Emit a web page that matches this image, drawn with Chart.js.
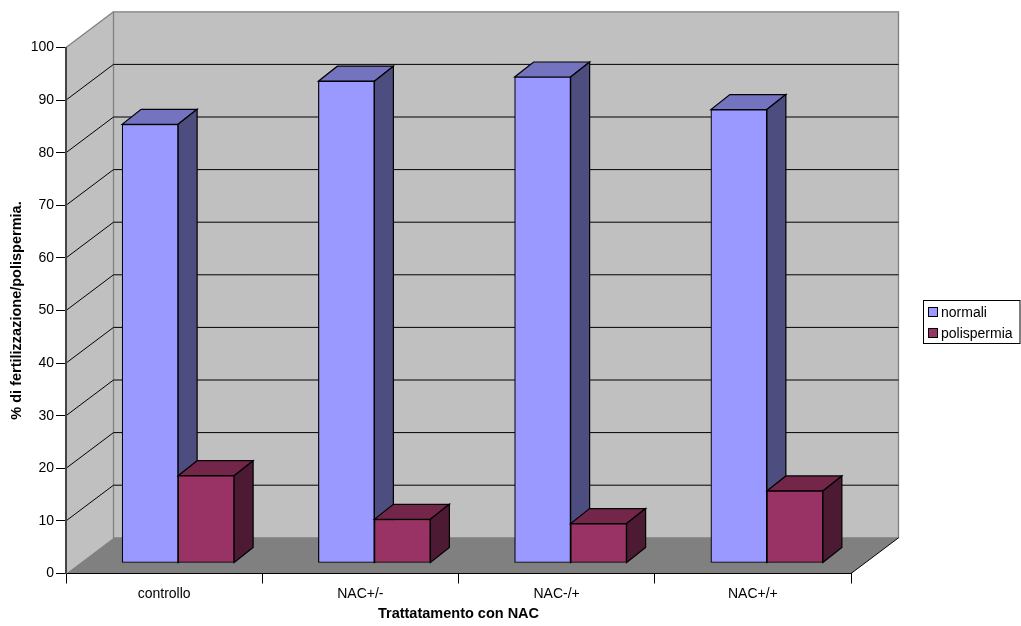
<!DOCTYPE html>
<html>
<head>
<meta charset="utf-8">
<title>Trattamento con NAC</title>
<script src="https://cdn.jsdelivr.net/npm/chart.js@4"></script>
<style>
  html, body { margin: 0; padding: 0; background: #fff; }
  canvas { display: block; }
</style>
</head>
<body>
<canvas id="chart" width="1021" height="626"></canvas>
<script>
const categories = ["controllo", "NAC+/-", "NAC-/+", "NAC+/+"];
const normali = [83.4, 91.6, 92.4, 86.2];
const polispermia = [16.6, 8.3, 7.5, 13.7];

const FONT = "Arial, 'Liberation Sans', sans-serif";

// depth of the box behind the plot, and of each bar
const wallDX = 47.5, wallDY = -35.7;
const barOffsetX = 14, barOffsetY = -10.5;
const barDX = 19, barDY = -15;

function poly(ctx, pts, fill, stroke, width) {
  ctx.beginPath();
  pts.forEach((p, i) => i ? ctx.lineTo(p[0], p[1]) : ctx.moveTo(p[0], p[1]));
  ctx.closePath();
  if (fill) { ctx.fillStyle = fill; ctx.fill(); }
  if (stroke) { ctx.strokeStyle = stroke; ctx.lineWidth = width || 1; ctx.stroke(); }
}

// back wall, side wall, floor and the grid lines folded over them
const boxPlugin = {
  id: "box3d",
  beforeDraw(chart) {
    const { ctx, chartArea: a, scales } = chart;
    const l = a.left, r = a.right, t = a.top, b = a.bottom;
    ctx.save();
    poly(ctx, [[l, t], [l + wallDX, t + wallDY], [l + wallDX, b + wallDY], [l, b]], "#c0c0c0");
    poly(ctx, [[l + wallDX, t + wallDY], [r + wallDX, t + wallDY], [r + wallDX, b + wallDY], [l + wallDX, b + wallDY]], "#c0c0c0", "#808080", 1.3);
    poly(ctx, [[l, b], [r, b], [r + wallDX, b + wallDY], [l + wallDX, b + wallDY]], "#808080");

    ctx.strokeStyle = "#808080";
    ctx.lineWidth = 1.3;
    ctx.beginPath();
    ctx.moveTo(l, t);
    ctx.lineTo(l + wallDX, t + wallDY);
    ctx.stroke();

    ctx.strokeStyle = "#000";
    ctx.lineWidth = 1;
    ctx.beginPath();
    ctx.moveTo(r, b);
    ctx.lineTo(r + wallDX, b + wallDY);
    ctx.stroke();

    scales.y.ticks.forEach(tick => {
      if (tick.value === 0 || tick.value === 100) return;
      const y = scales.y.getPixelForValue(tick.value);
      ctx.beginPath();
      ctx.moveTo(l, y);
      ctx.lineTo(l + wallDX, y + wallDY);
      ctx.lineTo(r + wallDX, y + wallDY);
      ctx.stroke();
    });
    ctx.restore();
  },
  // later series have to sit in front, so the bars are drawn here, left to right:
  // top and side faces first, then the front face, all pushed into the box
  beforeDatasetsDraw(chart) {
    const { ctx } = chart;
    ctx.save();
    ctx.translate(barOffsetX, barOffsetY);
    chart.getSortedVisibleDatasetMetas().forEach(meta => {
      const ds = chart.data.datasets[meta.index];
      meta.data.forEach(bar => {
        const { x, y, base, width } = bar.getProps(["x", "y", "base", "width"], true);
        const x0 = x - width / 2, x1 = x + width / 2;
        poly(ctx, [[x0, y], [x1, y], [x1 + barDX, y + barDY], [x0 + barDX, y + barDY]], ds.topColor, "#000", 1.2);
        poly(ctx, [[x1, y], [x1 + barDX, y + barDY], [x1 + barDX, base + barDY], [x1, base]], ds.sideColor, "#000", 1.2);
      });
      meta.controller.draw();
    });
    ctx.restore();
    return false;
  },
  afterDraw(chart) {
    const { ctx } = chart;
    ctx.save();
    ctx.fillStyle = "#fff";
    ctx.strokeStyle = "#000";
    ctx.lineWidth = 1;
    ctx.fillRect(923.5, 300.5, 96.5, 43);
    ctx.strokeRect(923.5, 300.5, 96.5, 43);
    ctx.font = "14px " + FONT;
    ctx.textBaseline = "middle";
    chart.data.datasets.forEach((ds, i) => {
      const y = 312 + i * 21;
      ctx.fillStyle = ds.backgroundColor;
      ctx.fillRect(928.5, y - 4.5, 9, 9);
      ctx.strokeRect(928.5, y - 4.5, 9, 9);
      ctx.fillStyle = "#000";
      ctx.fillText(ds.label, 941, y + 1);
    });
    ctx.restore();
  }
};

new Chart(document.getElementById("chart"), {
  type: "bar",
  data: {
    labels: categories,
    datasets: [
      {
        label: "normali", data: normali,
        backgroundColor: "#9999ff", topColor: "#7373bf", sideColor: "#4d4d80",
        borderColor: "#000", borderWidth: 1.2, borderSkipped: false,
        barThickness: 56
      },
      {
        label: "polispermia", data: polispermia,
        backgroundColor: "#993366", topColor: "#732649", sideColor: "#4d1a33",
        borderColor: "#000", borderWidth: 1.2, borderSkipped: false,
        barThickness: 56
      }
    ]
  },
  options: {
    responsive: false,
    animation: false,
    layout: { padding: { top: 47.5, right: 170, left: 0, bottom: 0 } },
    plugins: { legend: { display: false }, tooltip: { enabled: false } },
    scales: {
      x: {
        afterFit(scale) { scale.height = 52.5; },
        grid: { drawOnChartArea: false, tickLength: 10, tickColor: "#000", offset: true },
        border: { color: "#000", width: 1 },
        ticks: {
          autoSkip: false, maxRotation: 0, padding: 2, color: "#000",
          font: { family: FONT, size: 14 }
        },
        title: {
          display: true, text: "Trattatamento con NAC", color: "#000",
          font: { family: FONT, size: 14.5, weight: "bold" }, padding: { top: 0, bottom: 3 }
        }
      },
      y: {
        min: 0, max: 100,
        afterFit(scale) { scale.width = 66; },
        grid: { drawOnChartArea: false, tickLength: 10, tickColor: "#000" },
        border: { color: "#444", width: 2 },
        ticks: {
          stepSize: 10, padding: 2, color: "#000",
          font: { family: FONT, size: 14 }
        },
        title: {
          display: true, text: "% di fertilizzazione/polispermia.", color: "#000",
          font: { family: FONT, size: 14.5, weight: "bold" }, padding: { top: 8, bottom: 0 }
        }
      }
    }
  },
  plugins: [boxPlugin]
});
</script>
</body>
</html>
